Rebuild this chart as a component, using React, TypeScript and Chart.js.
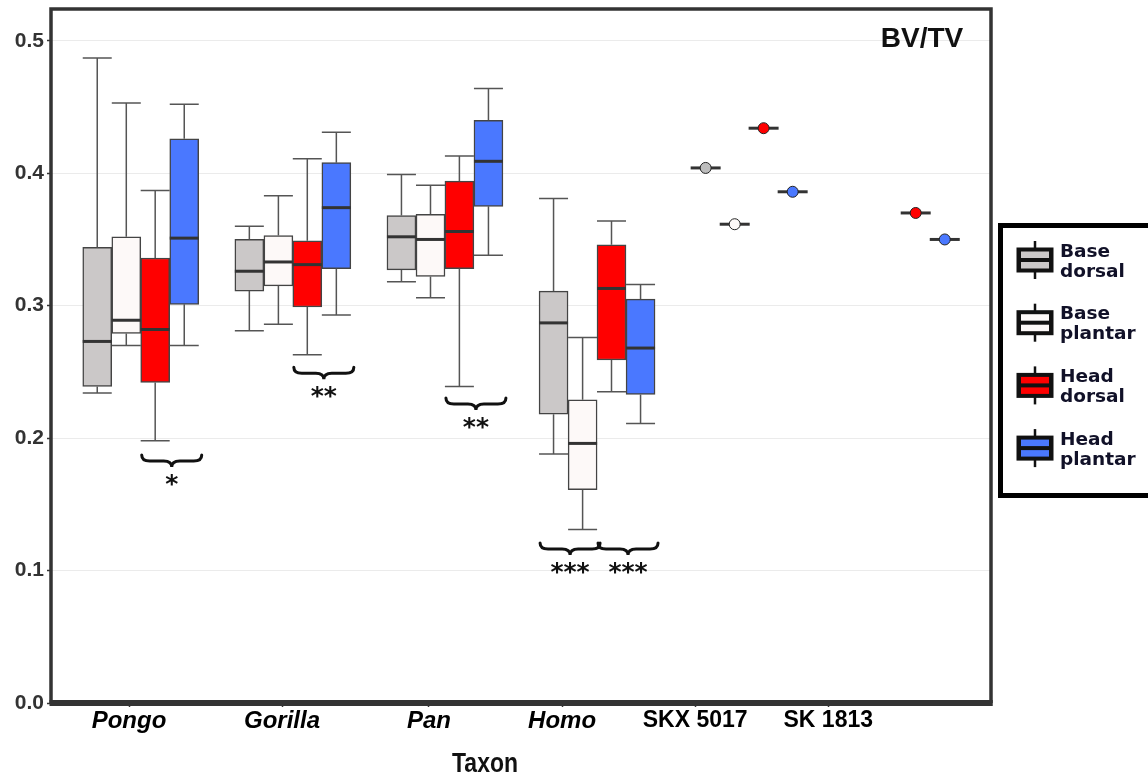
import React, { useEffect, useRef } from 'react';
import { Chart, registerables } from 'chart.js';

Chart.register(...registerables);

// ---- data ----
const taxa = ['Pongo', 'Gorilla', 'Pan', 'Homo', 'SKX 5017', 'SK 1813'];
// where the taxon labels sit on the x axis (as in the source figure)
const tickAt = [-0.077, 0.929, 1.895, 2.77, 3.645, 4.52];
const yTicks = [0, 0.1, 0.2, 0.3, 0.4, 0.5];

const seriesNames = ['Base dorsal', 'Base plantar', 'Head dorsal', 'Head plantar'];
const seriesColors = ['#cbc8c8', '#fdf9f8', '#ff0000', '#4a78ff'];
const slotOffsets = [-0.286, -0.095, 0.095, 0.286];

// [min, q1, median, q3, max] for Pongo, Gorilla, Pan, Homo
const baseDorsal = [
  [0.234, 0.239, 0.273, 0.344, 0.487],
  [0.281, 0.311, 0.326, 0.350, 0.360],
  [0.318, 0.327, 0.352, 0.368, 0.399],
  [0.188, 0.218, 0.287, 0.311, 0.381],
];
const basePlantar = [
  [0.270, 0.279, 0.289, 0.352, 0.453],
  [0.286, 0.315, 0.333, 0.353, 0.383],
  [0.306, 0.322, 0.350, 0.369, 0.391],
  [0.131, 0.161, 0.196, 0.229, 0.276],
];
const headDorsal = [
  [0.198, 0.242, 0.282, 0.336, 0.387],
  [0.263, 0.299, 0.331, 0.349, 0.411],
  [0.239, 0.328, 0.356, 0.394, 0.413],
  [0.235, 0.259, 0.313, 0.346, 0.364],
];
const headPlantar = [
  [0.270, 0.301, 0.351, 0.426, 0.452],
  [0.293, 0.328, 0.374, 0.408, 0.431],
  [0.338, 0.375, 0.409, 0.440, 0.464],
  [0.211, 0.233, 0.268, 0.305, 0.316],
];
// single fossil specimens, per series
const skx5017 = [0.404, 0.3615, 0.434, 0.386];
const sk1813 = [null, null, 0.370, 0.350];

// significance brackets: taxon index, first and last series, level, label
const sigTaxon = [0, 1, 2, 3, 3];
const sigFrom = [2, 2, 2, 0, 2];
const sigTo = [3, 3, 3, 1, 3];
const sigLevel = [0.1872, 0.2536, 0.2302, 0.1208, 0.1208];
const sigLabel = ['*', '**', '**', '***', '***'];

const boxSeries = [baseDorsal, basePlantar, headDorsal, headPlantar];
const fossilSeries = [skx5017, sk1813];
const fossilTaxonIndex = [4, 5];

const HALF = 14.5;

const extrasPlugin = {
  id: 'boxExtras',
  beforeDatasetsDraw(chart: any) {
    const ctx = chart.ctx;
    const xs = chart.scales.x;
    const ys = chart.scales.y;
    ctx.save();
    ctx.strokeStyle = '#333';
    ctx.lineWidth = 3;
    fossilSeries.forEach((arr, f) => {
      arr.forEach((v, k) => {
        if (v == null) return;
        const x = xs.getPixelForValue(fossilTaxonIndex[f] + slotOffsets[k]);
        const y = ys.getPixelForValue(v);
        ctx.beginPath();
        ctx.moveTo(x - 15, y);
        ctx.lineTo(x + 15, y);
        ctx.stroke();
      });
    });
    ctx.restore();
  },
  afterDatasetsDraw(chart: any) {
    const ctx = chart.ctx;
    const xs = chart.scales.x;
    const ys = chart.scales.y;
    ctx.save();
    boxSeries.forEach((s, k) => {
      s.forEach((b, i) => {
        const x = xs.getPixelForValue(i + slotOffsets[k]);
        const [mn, q1, md, q3, mx] = b.map((v) => ys.getPixelForValue(v));
        ctx.strokeStyle = '#555';
        ctx.lineWidth = 1.5;
        ctx.beginPath();
        ctx.moveTo(x, q3);
        ctx.lineTo(x, mx);
        ctx.moveTo(x - HALF, mx);
        ctx.lineTo(x + HALF, mx);
        ctx.moveTo(x, q1);
        ctx.lineTo(x, mn);
        ctx.moveTo(x - HALF, mn);
        ctx.lineTo(x + HALF, mn);
        ctx.stroke();
        ctx.strokeStyle = '#333';
        ctx.lineWidth = 3;
        ctx.beginPath();
        ctx.moveTo(x - HALF, md);
        ctx.lineTo(x + HALF, md);
        ctx.stroke();
      });
    });
    // significance braces
    sigTaxon.forEach((t, j) => {
      const xa = xs.getPixelForValue(t + slotOffsets[sigFrom[j]]);
      const xb = xs.getPixelForValue(t + slotOffsets[sigTo[j]]);
      const xm = (xa + xb) / 2 + 2;
      const x0 = xm - 30;
      const x1 = xm + 30;
      const yt = ys.getPixelForValue(sigLevel[j]);
      const h = 12;
      const r = 8;
      ctx.strokeStyle = '#111';
      ctx.lineWidth = 3;
      ctx.lineCap = 'round';
      ctx.beginPath();
      ctx.moveTo(x0, yt);
      ctx.quadraticCurveTo(x0, yt + h / 2, x0 + r, yt + h / 2);
      ctx.lineTo(xm - r, yt + h / 2);
      ctx.quadraticCurveTo(xm, yt + h / 2, xm, yt + h);
      ctx.quadraticCurveTo(xm, yt + h / 2, xm + r, yt + h / 2);
      ctx.lineTo(x1 - r, yt + h / 2);
      ctx.quadraticCurveTo(x1, yt + h / 2, x1, yt);
      ctx.stroke();
      ctx.fillStyle = '#111';
      ctx.font = 'bold 25px "DejaVu Sans", sans-serif';
      ctx.textAlign = 'center';
      ctx.textBaseline = 'alphabetic';
      ctx.fillText(sigLabel[j], xm, yt + 22 + 14.5);
    });
    ctx.restore();
  },
  afterDraw(chart: any) {
    const ctx = chart.ctx;
    const a = chart.chartArea;
    ctx.save();
    // panel frame
    ctx.strokeStyle = '#333';
    ctx.lineWidth = 3.5;
    ctx.beginPath();
    ctx.moveTo(a.left, a.bottom);
    ctx.lineTo(a.left, a.top);
    ctx.lineTo(a.right, a.top);
    ctx.lineTo(a.right, a.bottom);
    ctx.stroke();
    ctx.lineWidth = 6;
    ctx.beginPath();
    ctx.moveTo(a.left - 1.5, a.bottom);
    ctx.lineTo(a.right + 1.75, a.bottom);
    ctx.stroke();
    // panel title
    ctx.fillStyle = '#111';
    ctx.font = 'bold 28px "Liberation Sans", Arial, sans-serif';
    ctx.textAlign = 'center';
    ctx.textBaseline = 'alphabetic';
    ctx.fillText('BV/TV', 922, 47);
    // axis title
    ctx.save();
    ctx.translate(485, 772);
    ctx.scale(0.82, 1);
    ctx.font = 'bold 28px "Liberation Sans", Arial, sans-serif';
    ctx.fillText('Taxon', 0, 0);
    ctx.restore();
    // legend
    ctx.strokeStyle = '#000';
    ctx.lineWidth = 5;
    ctx.strokeRect(1000.5, 225.5, 200, 270);
    seriesNames.forEach((name, k) => {
      const cy = 260 + 62.7 * k;
      const cx = 1035;
      ctx.fillStyle = '#111';
      ctx.fillRect(cx - 1.25, cy - 19, 2.5, 38);
      ctx.fillRect(cx - 18.5, cy - 12.5, 37, 25);
      ctx.fillStyle = seriesColors[k];
      ctx.fillRect(cx - 14, cy - 8.5, 28, 6.5);
      ctx.fillRect(cx - 14, cy + 2, 28, 6.5);
      const words = name.split(' ');
      ctx.fillStyle = '#111128';
      ctx.font = 'bold 18.5px "DejaVu Sans", sans-serif';
      ctx.textAlign = 'left';
      ctx.fillText(words[0], 1060, cy - 3.3);
      ctx.fillText(words[1], 1060, cy + 16.7);
    });
    ctx.restore();
  },
};

export default function App() {
  const ref = useRef<HTMLCanvasElement | null>(null);
  useEffect(() => {
    document.body.style.margin = '0';
    const canvas = ref.current!;
    const datasets: any[] = [];
    boxSeries.forEach((s, k) => {
      datasets.push({
        type: 'bar',
        label: seriesNames[k],
        data: s.map((b, i) => ({ x: i + slotOffsets[k], y: [b[1], b[3]] })),
        backgroundColor: seriesColors[k],
        borderColor: '#444',
        borderWidth: 1.5,
        borderSkipped: false,
        barThickness: 29,
        grouped: false,
      });
    });
    seriesNames.forEach((name, k) => {
      const pts: any[] = [];
      fossilSeries.forEach((arr, f) => {
        if (arr[k] != null) pts.push({ x: fossilTaxonIndex[f] + slotOffsets[k], y: arr[k] });
      });
      datasets.push({
        type: 'scatter',
        label: name + ' (fossil)',
        data: pts,
        pointRadius: 5.5,
        pointBackgroundColor: k === 0 ? '#bdbdbd' : seriesColors[k],
        pointBorderColor: '#222',
        pointBorderWidth: 1,
      });
    });
    const chart = new Chart(canvas, {
      type: 'bar',
      data: { datasets },
      options: {
        responsive: false,
        animation: false,
        devicePixelRatio: 1,
        layout: { padding: { left: 0, top: 9, right: 157, bottom: 0 } },
        plugins: {
          legend: { display: false },
          tooltip: { enabled: false },
          title: { display: false },
        },
        scales: {
          x: {
            type: 'linear',
            min: -0.59,
            max: 5.59,
            offset: false,
            afterBuildTicks: (axis: any) => {
              axis.ticks = tickAt.map((v) => ({ value: v }));
            },
            afterFit: (s: any) => {
              s.height = 75;
              s.paddingLeft = 0;
              s.paddingRight = 0;
            },
            grid: {
              display: true,
              offset: false,
              drawOnChartArea: false,
              drawTicks: true,
              tickLength: 4,
              tickColor: '#333',
              tickWidth: 1.5,
            },
            border: { display: false },
            ticks: {
              autoSkip: false,
              maxRotation: 0,
              padding: 0,
              color: '#000',
              callback: (_v: any, i: number) => taxa[i],
              font: (c: any) => ({
                family: '"Liberation Sans", Arial, sans-serif',
                size: c.index < 4 ? 24 : 23,
                weight: 'bold',
                style: c.index < 4 ? 'italic' : 'normal',
              }),
            },
          },
          y: {
            type: 'linear',
            min: 0,
            max: 0.524,
            afterBuildTicks: (axis: any) => {
              axis.ticks = yTicks.map((v) => ({ value: v }));
            },
            afterFit: (s: any) => {
              s.width = 51;
              s.paddingTop = 0;
              s.paddingBottom = 0;
            },
            grid: {
              color: '#ebebeb',
              lineWidth: 1,
              tickLength: 4,
              tickColor: '#333',
              tickWidth: 1.5,
            },
            border: { display: false },
            ticks: {
              padding: 3,
              color: '#333',
              font: { family: '"Liberation Sans", Arial, sans-serif', size: 21, weight: 'bold' },
              callback: (v: any) => Number(v).toFixed(1),
            },
          },
        },
      },
      plugins: [extrasPlugin],
    } as any);
    return () => chart.destroy();
  }, []);
  return (
    <div style={{ width: 1148, height: 778 }}>
      <canvas ref={ref} width={1148} height={778} style={{ display: 'block', width: 1148, height: 778 }} />
    </div>
  );
}
